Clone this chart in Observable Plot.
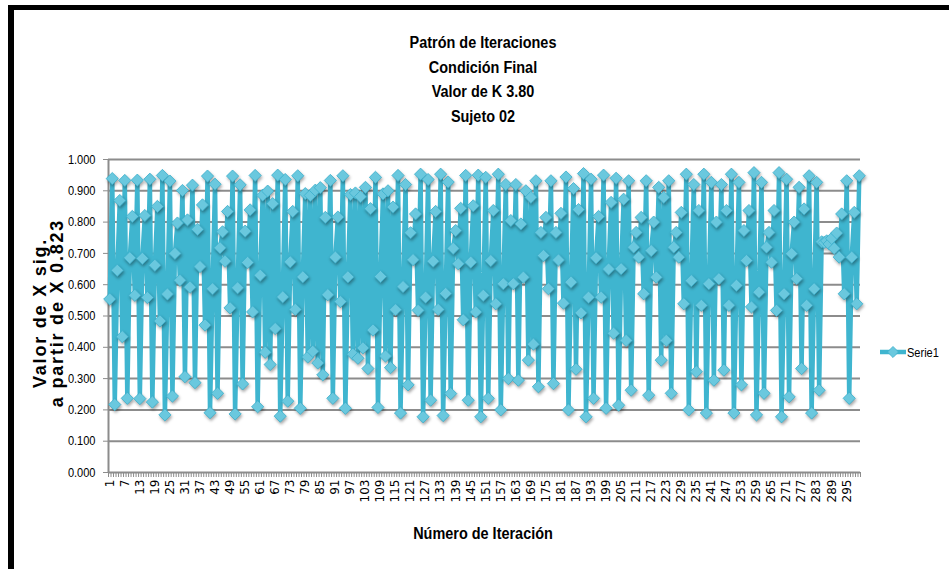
<!DOCTYPE html>
<html>
<head>
<meta charset="utf-8">
<script src="https://cdn.jsdelivr.net/npm/d3@7"></script>
<script src="https://cdn.jsdelivr.net/npm/@observablehq/plot@0.6"></script>
<style>
html, body { margin: 0; padding: 0; background: #fff; }
#chart { position: relative; width: 949px; height: 569px; overflow: hidden; background: #fff; }
</style>
</head>
<body>
<div id="chart"></div>
<script>
// ---- text ----
const titleLines = ["Patrón de Iteraciones", "Condición Final", "Valor de K 3.80", "Sujeto 02"];
const yTitleLines = ["Valor de X sig.", "a partir de X 0.823"];
const xTitle = "Número de Iteración";
const seriesName = "Serie1";

// ---- series values, iterations 1..300 ----
const values = [
  0.554,0.939,0.217,0.646,0.869,0.434,0.933,0.237,0.686,0.818,
  0.566,0.934,0.236,0.684,0.821,0.559,0.937,0.225,0.662,0.850,
  0.484,0.949,0.184,0.570,0.931,0.244,0.700,0.797,0.614,0.901,
  0.306,0.807,0.592,0.918,0.287,0.777,0.658,0.855,0.471,0.947,
  0.191,0.587,0.921,0.253,0.718,0.769,0.675,0.834,0.526,0.947,
  0.187,0.590,0.919,0.283,0.771,0.671,0.839,0.513,0.949,0.210,
  0.630,0.886,0.384,0.899,0.345,0.859,0.460,0.950,0.180,0.561,
  0.936,0.228,0.673,0.834,0.521,0.948,0.205,0.625,0.891,0.369,
  0.885,0.387,0.902,0.350,0.910,0.312,0.815,0.568,0.933,0.237,
  0.688,0.816,0.546,0.948,0.205,0.625,0.888,0.378,0.893,0.365,
  0.881,0.398,0.911,0.332,0.843,0.455,0.943,0.208,0.626,0.890,
  0.372,0.900,0.335,0.848,0.520,0.949,0.190,0.594,0.920,0.280,
  0.766,0.680,0.826,0.518,0.953,0.178,0.560,0.936,0.231,0.675,
  0.834,0.521,0.953,0.182,0.572,0.928,0.252,0.716,0.773,0.667,
  0.844,0.488,0.949,0.231,0.672,0.852,0.513,0.950,0.178,0.566,
  0.943,0.237,0.677,0.837,0.539,0.953,0.200,0.603,0.920,0.300,
  0.805,0.603,0.920,0.295,0.794,0.624,0.900,0.359,0.879,0.410,
  0.932,0.274,0.767,0.693,0.815,0.587,0.932,0.284,0.767,0.679,
  0.828,0.541,0.944,0.200,0.608,0.907,0.330,0.840,0.510,0.955,
  0.178,0.560,0.937,0.237,0.686,0.818,0.560,0.950,0.205,0.650,
  0.863,0.445,0.940,0.215,0.651,0.873,0.422,0.932,0.263,0.720,
  0.767,0.688,0.815,0.571,0.932,0.247,0.709,0.800,0.624,0.911,
  0.359,0.879,0.422,0.932,0.253,0.720,0.767,0.688,0.831,0.539,
  0.953,0.200,0.613,0.920,0.322,0.837,0.534,0.953,0.190,0.603,
  0.927,0.295,0.800,0.619,0.920,0.327,0.837,0.534,0.953,0.190,
  0.598,0.927,0.280,0.773,0.677,0.837,0.529,0.958,0.184,0.576,
  0.927,0.253,0.720,0.767,0.672,0.837,0.518,0.958,0.178,0.571,
  0.937,0.242,0.699,0.800,0.619,0.911,0.332,0.842,0.534,0.948,
  0.190,0.587,0.927,0.263,0.737,0.735,0.740,0.730,0.748,0.716,
  0.765,0.688,0.826,0.571,0.932,0.237,0.688,0.831,0.539,0.948
];

// ---- axis ticks ----
const yTicks = [0.0, 0.1, 0.2, 0.3, 0.4, 0.5, 0.6, 0.7, 0.8, 0.9, 1.0];
const xLabelTicks = [1,7,13,19,25,31,37,43,49,55,61,67,73,79,85,91,97,103,109,115,121,127,133,139,145,
  151,157,163,169,175,181,187,193,199,205,211,217,223,229,235,241,247,253,259,265,271,277,283,289,295];

const lineColor = "#3fb5cf";
const markerFill = "#6ac8de";
const markerStroke = "#3aaecb";
const gridColor = "#8c8c8c";
const sansFont = "'Liberation Sans', Arial, sans-serif";
const narrowScale = 0.85;

const data = values.map((v, i) => ({iter: i + 1, v}));
const categoryEdges = data.map(d => d.iter - 0.5).concat([values.length + 0.5]);

const plot = Plot.plot({
  width: 949,
  height: 569,
  marginLeft: 108,
  marginRight: 89,
  marginTop: 159,
  marginBottom: 97,
  style: {background: "transparent", overflow: "visible"},
  x: {domain: [0.5, values.length + 0.5]},
  y: {domain: [0, 1]},
  marks: [
    Plot.gridY(yTicks.filter(t => t > 0), {stroke: gridColor, strokeOpacity: 1, strokeWidth: 2}),
    Plot.ruleY([0], {stroke: gridColor, strokeWidth: 2}),
    Plot.ruleX([0.5], {stroke: gridColor, strokeWidth: 2}),
    Plot.axisY({ticks: yTicks, tickFormat: d3.format(".3f"), tickSize: 5, tickPadding: 8, label: null, stroke: gridColor, fill: "#000", fontSize: 13}),
    Plot.axisX({ticks: categoryEdges, tickFormat: () => "", tickSize: 5, label: null, stroke: gridColor}),
    Plot.axisX({ticks: xLabelTicks, tickFormat: d => String(d), tickSize: 0, tickPadding: 7, tickRotate: -90, label: null, fill: "#000", fontSize: 12}),
    Plot.line(data, {x: "iter", y: "v", stroke: lineColor, strokeWidth: 4.5, strokeLinejoin: "round"}),
    Plot.dot(data, {x: "iter", y: "v", symbol: "diamond2", r: 5.5, fill: markerFill, stroke: markerStroke, strokeWidth: 0.8, imageFilter: "drop-shadow(1px 2px 1.5px rgba(0,0,0,0.35))"})
  ]
});

document.getElementById("chart").appendChild(plot);

const svg = d3.select(plot);

// narrow (condensed) look for the y tick labels: only add a horizontal squeeze
svg.selectAll('g[aria-label="y-axis tick label"] text').each(function() {
  const el = d3.select(this);
  const tr = el.attr("transform") || "";
  el.attr("transform", `${tr} scale(${narrowScale},1)`).style("font-family", sansFont);
});
svg.selectAll('g[aria-label="x-axis tick label"] text').style("font-family", "'DejaVu Sans', sans-serif");

const deco = svg.append("g");

// frame (black border at top and left)
deco.append("line").attr("x1", 8).attr("x2", 949).attr("y1", 7.5).attr("y2", 7.5).attr("stroke", "#000").attr("stroke-width", 5);
deco.append("line").attr("x1", 11).attr("x2", 11).attr("y1", 5).attr("y2", 569).attr("stroke", "#000").attr("stroke-width", 6);

function narrowText(x, y, t, size, anchor) {
  return deco.append("text")
    .attr("transform", `translate(${x},${y}) scale(${narrowScale},1)`)
    .attr("text-anchor", anchor)
    .style("font-family", sansFont)
    .style("font-size", size + "px")
    .text(t);
}

// title
titleLines.forEach((t, i) => {
  narrowText(483, 48 + i * 24.5, t, 17, "middle").style("font-weight", "bold");
});

// y title (two rotated lines)
yTitleLines.forEach((t, i) => {
  deco.append("text")
    .attr("transform", `translate(${46 + i * 17},313) rotate(-90)`)
    .attr("text-anchor", "middle")
    .style("font-family", sansFont)
    .style("font-weight", "bold").style("font-size", "18px")
    .style("letter-spacing", "1.8px")
    .text(t);
});

// x title
narrowText(483, 539, xTitle, 17, "middle").style("font-weight", "bold");

// legend
deco.append("line").attr("x1", 880).attr("x2", 906).attr("y1", 352).attr("y2", 352).attr("stroke", lineColor).attr("stroke-width", 4.5);
deco.append("path").attr("d", d3.symbol(d3.symbolDiamond2, Math.PI * 25)()).attr("transform", "translate(893,352)")
  .attr("fill", markerFill).attr("stroke", markerStroke).attr("stroke-width", 0.8);
narrowText(907, 356.5, seriesName, 13, "start");
</script>
</body>
</html>
